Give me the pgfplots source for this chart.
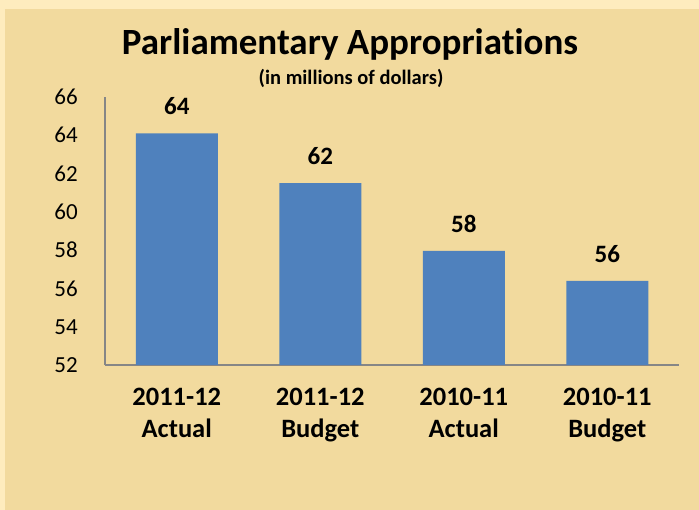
\documentclass[border=0pt]{standalone}
\usepackage{pgfplots}
\usepackage{pgfplotstable}
\pgfplotsset{compat=1.18}
\usepackage{fontspec}
\setmainfont{Carlito}[Ligatures=NoCommon]

\definecolor{bgmain}{RGB}{242,218,158}
\definecolor{bgstrip}{RGB}{254,236,190}
\definecolor{barblue}{RGB}{79,129,189}
\definecolor{axisgray}{RGB}{134,134,134}

% appropriations, millions of dollars
\pgfplotstableread{
x y lab
0 64.1 64
1 61.5 62
2 57.96 58
3 56.4 56
}\approp

\begin{document}
\begin{tikzpicture}
\useasboundingbox (0pt,0pt) rectangle (699pt,510pt);
\fill[bgmain] (0pt,0pt) rectangle (699pt,510pt);
\fill[bgstrip] (0pt,501pt) rectangle (699pt,510pt);
\fill[bgstrip] (0pt,0pt) rectangle (5pt,510pt);
\node[anchor=base, inner sep=0pt, font=\bfseries\fontsize{37}{44}\selectfont]
  at (350pt,455pt) {Parliamentary Appropriations};
\node[anchor=base, inner sep=0pt, font=\bfseries\fontsize{20.5}{24}\selectfont]
  at (351pt,425pt) {(in millions of dollars)};
\begin{axis}[
    at={(105pt,145pt)}, anchor=south west,
    scale only axis,
    width=574pt, height=268pt,
    xmin=-0.5, xmax=3.5,
    ymin=52, ymax=66,
    ytick={52,54,...,66},
    xtick=data,
    xticklabels={{2011-12\\Actual},{2011-12\\Budget},{2010-11\\Actual},{2010-11\\Budget}},
    axis lines*=left,
    axis line style={axisgray, line width=1.3pt},
    major tick length=0pt,
    /pgf/number format/assume math mode=true,
    yticklabel style={font=\fontsize{23}{27}\selectfont, inner sep=0pt, xshift=-27pt},
    xticklabel style={font=\bfseries\fontsize{26.5}{32}\selectfont, align=center, inner sep=0pt, yshift=-23pt},
    ybar, bar width=82pt,
    nodes near coords,
    point meta=explicit symbolic,
    every node near coord/.append style={font=\bfseries\fontsize{25}{29}\selectfont, inner sep=0pt, yshift=18pt, black},
]
\addplot[fill=barblue, draw=none] table[x=x, y=y, meta=lab] {\approp};
\end{axis}
\end{tikzpicture}
\end{document}
